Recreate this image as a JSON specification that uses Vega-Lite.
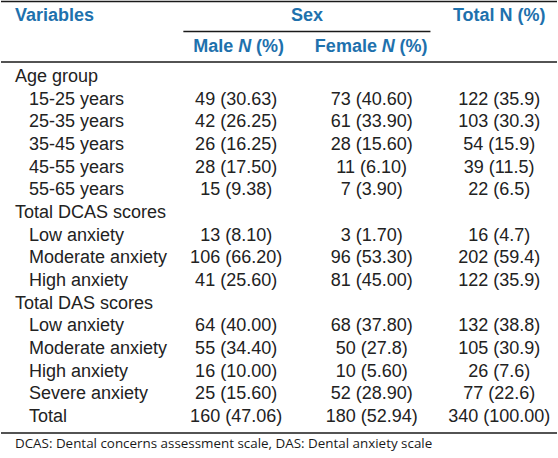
{
  "$schema": "https://vega.github.io/schema/vega-lite/v6.json",
  "width": 558,
  "height": 458,
  "autosize": {"type": "fit", "contains": "padding"},
  "padding": 0,
  "background": "white",
  "config": {"view": {"stroke": null}, "text": {"font": "Liberation Sans", "fontSize": 18, "baseline": "middle", "color": "#222222"}},
  "datasets": {
    "body": [
      {"row": 0, "variable": "Age group", "level": 0, "male": "", "female": "", "total": ""},
      {"row": 1, "variable": "15-25 years", "level": 1, "male": "49 (30.63)", "female": "73 (40.60)", "total": "122 (35.9)"},
      {"row": 2, "variable": "25-35 years", "level": 1, "male": "42 (26.25)", "female": "61 (33.90)", "total": "103 (30.3)"},
      {"row": 3, "variable": "35-45 years", "level": 1, "male": "26 (16.25)", "female": "28 (15.60)", "total": "54 (15.9)"},
      {"row": 4, "variable": "45-55 years", "level": 1, "male": "28 (17.50)", "female": "11 (6.10)", "total": "39 (11.5)"},
      {"row": 5, "variable": "55-65 years", "level": 1, "male": "15 (9.38)", "female": "7 (3.90)", "total": "22 (6.5)"},
      {"row": 6, "variable": "Total DCAS scores", "level": 0, "male": "", "female": "", "total": ""},
      {"row": 7, "variable": "Low anxiety", "level": 1, "male": "13 (8.10)", "female": "3 (1.70)", "total": "16 (4.7)"},
      {"row": 8, "variable": "Moderate anxiety", "level": 1, "male": "106 (66.20)", "female": "96 (53.30)", "total": "202 (59.4)"},
      {"row": 9, "variable": "High anxiety", "level": 1, "male": "41 (25.60)", "female": "81 (45.00)", "total": "122 (35.9)"},
      {"row": 10, "variable": "Total DAS scores", "level": 0, "male": "", "female": "", "total": ""},
      {"row": 11, "variable": "Low anxiety", "level": 1, "male": "64 (40.00)", "female": "68 (37.80)", "total": "132 (38.8)"},
      {"row": 12, "variable": "Moderate anxiety", "level": 1, "male": "55 (34.40)", "female": "50 (27.8)", "total": "105 (30.9)"},
      {"row": 13, "variable": "High anxiety", "level": 1, "male": "16 (10.00)", "female": "10 (5.60)", "total": "26 (7.6)"},
      {"row": 14, "variable": "Severe anxiety", "level": 1, "male": "25 (15.60)", "female": "52 (28.90)", "total": "77 (22.6)"},
      {"row": 15, "variable": "Total", "level": 1, "male": "160 (47.06)", "female": "180 (52.94)", "total": "340 (100.00)"}
    ]
  },
  "layer": [
    {
      "data": {"values": [{"line": "top"}]},
      "mark": {"type": "rule", "color": "#1a1a1a", "strokeWidth": 1.5},
      "encoding": {
        "y": {"datum": -3.33, "type": "quantitative", "scale": {"domain": [-3.397, 16.807], "reverse": true, "zero": false, "nice": false}, "axis": null}
      }
    },
    {
      "data": {"values": [{"line": "header"}]},
      "mark": {"type": "rule", "color": "#1a1a1a", "strokeWidth": 1.5},
      "encoding": {"y": {"datum": -0.66, "type": "quantitative"}}
    },
    {
      "data": {"values": [{"line": "bottom"}]},
      "mark": {"type": "rule", "color": "#1a1a1a", "strokeWidth": 1.5},
      "encoding": {"y": {"datum": 15.7, "type": "quantitative"}}
    },
    {
      "data": {"values": [{"line": "sex"}]},
      "mark": {"type": "rule", "color": "#1a1a1a", "strokeWidth": 1.5},
      "encoding": {
        "y": {"datum": -2.01, "type": "quantitative"},
        "x": {"datum": 183, "type": "quantitative", "scale": {"domain": [0, 558], "zero": false, "nice": false}, "axis": null},
        "x2": {"datum": 431}
      }
    },
    {
      "data": {"values": [{"text": "Variables"}]},
      "mark": {"type": "text", "align": "left", "fontWeight": "bold", "color": "#1e71ad"},
      "encoding": {"x": {"datum": 14, "type": "quantitative"}, "y": {"datum": -2.69, "type": "quantitative"}, "text": {"field": "text"}}
    },
    {
      "data": {"values": [{"text": "Sex"}]},
      "mark": {"type": "text", "align": "center", "fontWeight": "bold", "color": "#1e71ad"},
      "encoding": {"x": {"datum": 307, "type": "quantitative"}, "y": {"datum": -2.69, "type": "quantitative"}, "text": {"field": "text"}}
    },
    {
      "data": {"values": [{"text": "Total N (%)"}]},
      "mark": {"type": "text", "align": "center", "fontWeight": "bold", "color": "#1e71ad"},
      "encoding": {"x": {"datum": 500, "type": "quantitative"}, "y": {"datum": -2.69, "type": "quantitative"}, "text": {"field": "text"}}
    },
    {
      "data": {"values": [{"text": "Male "}]},
      "mark": {"type": "text", "align": "left", "fontWeight": "bold", "color": "#1e71ad"},
      "encoding": {"x": {"datum": 193, "type": "quantitative"}, "y": {"datum": -1.32, "type": "quantitative"}, "text": {"field": "text"}}
    },
    {
      "data": {"values": [{"text": "N"}]},
      "mark": {"type": "text", "align": "left", "fontWeight": "bold", "fontStyle": "italic", "color": "#1e71ad"},
      "encoding": {"x": {"datum": 238, "type": "quantitative"}, "y": {"datum": -1.32, "type": "quantitative"}, "text": {"field": "text"}}
    },
    {
      "data": {"values": [{"text": "(%)"}]},
      "mark": {"type": "text", "align": "left", "fontWeight": "bold", "color": "#1e71ad"},
      "encoding": {"x": {"datum": 256, "type": "quantitative"}, "y": {"datum": -1.32, "type": "quantitative"}, "text": {"field": "text"}}
    },
    {
      "data": {"values": [{"text": "Female "}]},
      "mark": {"type": "text", "align": "left", "fontWeight": "bold", "color": "#1e71ad"},
      "encoding": {"x": {"datum": 315, "type": "quantitative"}, "y": {"datum": -1.32, "type": "quantitative"}, "text": {"field": "text"}}
    },
    {
      "data": {"values": [{"text": "N"}]},
      "mark": {"type": "text", "align": "left", "fontWeight": "bold", "fontStyle": "italic", "color": "#1e71ad"},
      "encoding": {"x": {"datum": 382, "type": "quantitative"}, "y": {"datum": -1.32, "type": "quantitative"}, "text": {"field": "text"}}
    },
    {
      "data": {"values": [{"text": "(%)"}]},
      "mark": {"type": "text", "align": "left", "fontWeight": "bold", "color": "#1e71ad"},
      "encoding": {"x": {"datum": 400, "type": "quantitative"}, "y": {"datum": -1.32, "type": "quantitative"}, "text": {"field": "text"}}
    },
    {
      "data": {"name": "body"},
      "transform": [{"filter": "datum.level == 0"}],
      "mark": {"type": "text", "align": "left"},
      "encoding": {"x": {"datum": 14, "type": "quantitative"}, "y": {"field": "row", "type": "quantitative"}, "text": {"field": "variable"}}
    },
    {
      "data": {"name": "body"},
      "transform": [{"filter": "datum.level == 1"}],
      "mark": {"type": "text", "align": "left"},
      "encoding": {"x": {"datum": 28, "type": "quantitative"}, "y": {"field": "row", "type": "quantitative"}, "text": {"field": "variable"}}
    },
    {
      "data": {"name": "body"},
      "mark": {"type": "text", "align": "center"},
      "encoding": {"x": {"datum": 236, "type": "quantitative"}, "y": {"field": "row", "type": "quantitative"}, "text": {"field": "male"}}
    },
    {
      "data": {"name": "body"},
      "mark": {"type": "text", "align": "center"},
      "encoding": {"x": {"datum": 372, "type": "quantitative"}, "y": {"field": "row", "type": "quantitative"}, "text": {"field": "female"}}
    },
    {
      "data": {"name": "body"},
      "mark": {"type": "text", "align": "center"},
      "encoding": {"x": {"datum": 500, "type": "quantitative"}, "y": {"field": "row", "type": "quantitative"}, "text": {"field": "total"}}
    },
    {
      "data": {"values": [{"note": "DCAS: Dental concerns assessment scale, DAS: Dental anxiety scale"}]},
      "mark": {"type": "text", "align": "left", "font": "Open Sans", "fontSize": 13.4, "color": "#1a1a1a"},
      "encoding": {"x": {"datum": 14, "type": "quantitative"}, "y": {"datum": 16.17, "type": "quantitative"}, "text": {"field": "note"}}
    }
  ]
}
